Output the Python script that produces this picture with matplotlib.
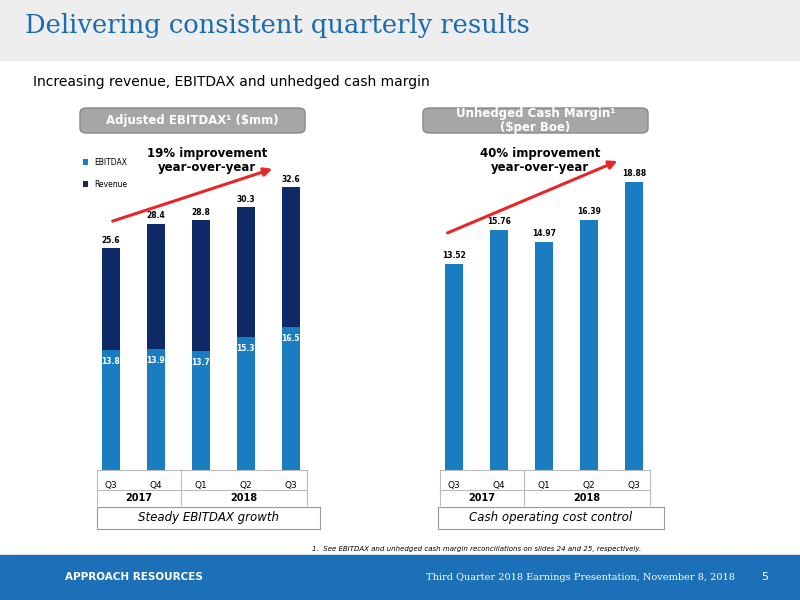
import matplotlib.pyplot as plt
from matplotlib.patches import FancyBboxPatch, Rectangle, FancyArrowPatch

quarters = ["Q3", "Q4", "Q1", "Q2", "Q3"]
years = ["2017", "2018"]
ebitdax = [13.8, 13.9, 13.7, 15.3, 16.5]
revenue_total = [25.6, 28.4, 28.8, 30.3, 32.6]
cash_margin = [13.52, 15.76, 14.97, 16.39, 18.88]

LIGHT = "#1a7cc1"
NAVY = "#0d2a66"
W, H = 800, 600

fig = plt.figure(figsize=(8, 6), dpi=100)

def fx(x):
    return x / W

def fy(y):
    return 1 - y / H

# header band and title
fig.patches.append(Rectangle((0, fy(60)), 1, 60 / H, transform=fig.transFigure, color="#eeeeee", zorder=0))
fig.text(fx(25), fy(25), "Delivering consistent quarterly results", fontsize=18.5, color="#1b6bb0",
         family="DejaVu Serif", va="center")
fig.text(fx(33), fy(82), "Increasing revenue, EBITDAX and unhedged cash margin", fontsize=10, va="center")

# footer band
fig.patches.append(Rectangle((0, 0), 1, 45 / H, transform=fig.transFigure, color="#1b70b8", zorder=0))
fig.text(fx(65), fy(577), "APPROACH RESOURCES", fontsize=7.5, color="white", weight="bold", va="center")
fig.text(fx(735), fy(577), "Third Quarter 2018 Earnings Presentation, November 8, 2018", fontsize=7,
         color="white", family="DejaVu Serif", ha="right", va="center")
fig.text(fx(768), fy(577), "5", fontsize=8, color="white", ha="right", va="center")
fig.text(fx(312), fy(549), "1.  See EBITDAX and unhedged cash margin reconciliations on slides 24 and 25, respectively.",
         fontsize=5, style="italic", va="center")


def header_box(x0, x1, y0, y1, text):
    fig.patches.append(FancyBboxPatch((fx(x0), fy(y1)), fx(x1 - x0), (y1 - y0) / H,
                                      boxstyle="round,pad=0,rounding_size=0.008", transform=fig.transFigure,
                                      facecolor="#a6a6a6", edgecolor="#888888", zorder=1))
    fig.text(fx((x0 + x1) / 2), fy((y0 + y1) / 2), text, color="white", weight="bold", fontsize=8.5,
             ha="center", va="center", linespacing=1.05)


def footer_box(x0, x1, text):
    fig.patches.append(Rectangle((fx(x0), fy(529)), fx(x1 - x0), 22 / H, transform=fig.transFigure,
                                 facecolor="white", edgecolor="#999999", lw=0.8))
    fig.text(fx((x0 + x1) / 2), fy(518), text, fontsize=8.5, style="italic", ha="center", va="center")


header_box(80, 305, 108, 133, "Adjusted EBITDAX¹ ($mm)")
header_box(423, 648, 108, 133, "Unhedged Cash Margin¹\n($per Boe)")
footer_box(97, 320, "Steady EBITDAX growth")
footer_box(438, 664, "Cash operating cost control")


def make_axes(x0, x1):
    ax = fig.add_axes([fx(x0), fy(470), fx(x1 - x0), 310 / H])
    for s in ["top", "right", "left"]:
        ax.spines[s].set_visible(False)
    ax.spines["bottom"].set_color("#bbbbbb")
    ax.set_yticks([])
    ax.set_xticks(range(5))
    ax.set_xticklabels(quarters, fontsize=6.5)
    ax.tick_params(axis="x", length=0, pad=8)
    ax.set_xlim(-0.31, 4.36)
    return ax


def year_labels(x0, x1):
    fig.lines.append(plt.Line2D([fx(x0), fx(x1)], [fy(490), fy(490)], transform=fig.transFigure,
                                color="#bbbbbb", lw=0.8))
    step = (x1 - x0) / 5
    for xx in (x0, x0 + 2 * step, x1):
        fig.lines.append(plt.Line2D([fx(xx), fx(xx)], [fy(470), fy(505)], transform=fig.transFigure,
                                    color="#bbbbbb", lw=0.8))
    fig.text(fx(x0 + step), fy(498), years[0], fontsize=7, weight="bold", ha="center", va="center")
    fig.text(fx(x0 + 3.5 * step), fy(498), years[1], fontsize=7, weight="bold", ha="center", va="center")


# left chart
ax1 = make_axes(97, 307)
ax1.set_ylim(0, 310 / 8.67)
x = range(5)
rev_part = [t - e for t, e in zip(revenue_total, ebitdax)]
ax1.bar(x, ebitdax, width=0.4, color=LIGHT, label="EBITDAX")
ax1.bar(x, rev_part, bottom=ebitdax, width=0.4, color=NAVY, label="Revenue")
for i in x:
    ax1.text(i, ebitdax[i] - 0.8, f"{ebitdax[i]:.1f}", color="white", fontsize=5.5, weight="bold",
             ha="center", va="top")
    ax1.text(i, revenue_total[i] + 0.4, f"{revenue_total[i]:.1f}", fontsize=5.5, weight="bold",
             ha="center", va="bottom")
ax1.legend(loc="upper left", bbox_to_anchor=(-0.1, 1.03), frameon=False, fontsize=5.5,
           handlelength=0.7, handleheight=0.7, labelspacing=1.7)
year_labels(97, 307)
fig.text(fx(207), fy(161), "19% improvement\nyear-over-year", fontsize=8.5, weight="bold", ha="center",
         va="center", linespacing=1.1)
fig.patches.append(FancyArrowPatch((fx(110), fy(222)), (fx(275), fy(168)), transform=fig.transFigure,
                                   arrowstyle="-|>", mutation_scale=12, color="#e8262a", lw=2.2))

# right chart
ax2 = make_axes(440, 650)
ax2.set_ylim(0, 310 / 15.25)
ax2.bar(x, cash_margin, width=0.4, color=LIGHT)
for i in x:
    ax2.text(i, cash_margin[i] + 0.25, f"{cash_margin[i]:.2f}", fontsize=5.5, weight="bold",
             ha="center", va="bottom")
year_labels(440, 650)
fig.text(fx(540), fy(161), "40% improvement\nyear-over-year", fontsize=8.5, weight="bold", ha="center",
         va="center", linespacing=1.1)
fig.patches.append(FancyArrowPatch((fx(445), fy(234)), (fx(620), fy(160)), transform=fig.transFigure,
                                   arrowstyle="-|>", mutation_scale=12, color="#e8262a", lw=2.2))

fig.savefig("out.png", dpi=100)
